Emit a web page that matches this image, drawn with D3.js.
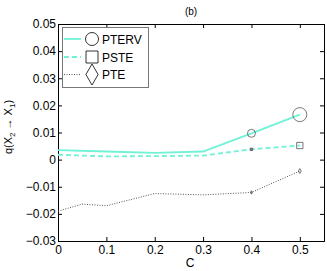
<!DOCTYPE html>
<html lang='en'>
<meta charset="utf-8">
<script src="https://d3js.org/d3.v7.min.js"></script>
<style>
body { margin:0; background:#fff; }
text { font-family: "Liberation Sans", Arial, sans-serif; }
</style>
<body>
<svg id="chart" width="327" height="271"></svg>
<script>

// data
var cValues = [0, 0.1, 0.2, 0.3, 0.4, 0.5];
var pterv = [0.0035, 0.003, 0.0025, 0.003, 0.0097, 0.0166];
var pste = [0.0018, 0.0012, 0.0013, 0.0015, 0.0038, 0.0052];
var pteX = [0, 0.05, 0.1, 0.2, 0.3, 0.4, 0.5];
var pte = [-0.019, -0.0164, -0.017, -0.0125, -0.013, -0.0121, -0.0042];
var markerC = [0.4, 0.5];
var ptervMarker = [0.0097, 0.0166];
var psteMarker = [0.0038, 0.0052];
var pteMarker = [-0.0121, -0.0042];
var markerSize = [4, 7];
var xTicks = [0, 0.1, 0.2, 0.3, 0.4, 0.5];
var yTicks = [-0.03, -0.02, -0.01, 0, 0.01, 0.02, 0.03, 0.04, 0.05];
var seriesNames = ["PTERV", "PSTE", "PTE"];

var cyan = "#6ff2d6";
var grey = "#555";

var svg = d3.select("#chart");
var L = 58, R = 324, T = 24, B = 241;

var x = d3.scaleLinear().domain([0, 0.55]).range([L, R]);
var y = d3.scaleLinear().domain([-0.03, 0.05]).range([B, T]);

function fmt(d){ return d == 0 ? "0" : d3.format(".2f")(d).replace("-", "\u2212"); }

// axes (matlab style, ticks inside)
svg.append("g").attr("transform","translate(0,"+B+")")
  .call(d3.axisBottom(x).tickValues(xTicks).tickSize(-4).tickPadding(4).tickFormat(function(d){ return d == 0 ? "0" : d3.format(".1f")(d); }));
svg.append("g").attr("transform","translate(0,"+T+")")
  .call(d3.axisTop(x).tickValues(xTicks).tickSize(-4).tickFormat(""));
svg.append("g").attr("transform","translate("+L+",0)")
  .call(d3.axisLeft(y).tickValues(yTicks).tickSize(-4).tickPadding(2).tickFormat(fmt));
svg.append("g").attr("transform","translate("+R+",0)")
  .call(d3.axisRight(y).tickValues(yTicks).tickSize(-4).tickFormat(""));

svg.selectAll(".domain").attr("stroke","#000").attr("stroke-width",1);
svg.selectAll(".tick line").attr("stroke","#000");
svg.selectAll(".tick text").attr("font-size","12px").attr("fill","#000")
  .style("font-family","'Liberation Sans', Arial, sans-serif");

// lines
var line = d3.line().x(function(d){ return x(d[0]); }).y(function(d){ return y(d[1]); });

svg.append("path").datum(d3.zip(cValues, pterv)).attr("d", line)
  .attr("fill","none").attr("stroke",cyan).attr("stroke-width",1.8);
svg.append("path").datum(d3.zip(cValues, pste)).attr("d", line)
  .attr("fill","none").attr("stroke",cyan).attr("stroke-width",1.8).attr("stroke-dasharray","5,3");
svg.append("path").datum(d3.zip(pteX, pte)).attr("d", line)
  .attr("fill","none").attr("stroke",grey).attr("stroke-width",1).attr("stroke-dasharray","1,1.5");

// markers
var sym = [d3.symbolCircle, d3.symbolSquare, d3.symbolDiamond];
var mks = [ptervMarker, psteMarker, pteMarker];
var scaleMk = [1, 0.45, 0.25];
mks.forEach(function(arr, k){
  arr.forEach(function(v, i){
    var r = markerSize[i] * scaleMk[k];
    if (k > 0 && i == 0) r = 1.2;
    var a = k == 0 ? Math.PI*r*r : (k == 1 ? 4*r*r : 2.3*r*r);
    svg.append("path")
      .attr("d", d3.symbol().type(sym[k]).size(a)())
      .attr("transform","translate("+x(markerC[i])+","+y(v)+")")
      .attr("fill", k == 0 ? "none" : (i == 0 ? "#888" : "none"))
      .attr("stroke", "#555").attr("stroke-width", 0.8);
  });
});

// legend
var lg = svg.append("g");
lg.append("rect").attr("x",62.5).attr("y",27.5).attr("width",86).attr("height",60)
  .attr("fill","#fff").attr("stroke","#777").attr("stroke-width",1);
var legY = [39, 57, 74.5];
var legDash = [null, "5,3", "1,1.5"];
var legCol = [cyan, cyan, grey];
var legW = [1.8, 1.8, 1];
var legSize = [Math.PI*6.5*6.5, 144, 2*8*8];
seriesNames.forEach(function(name, i){
  lg.append("line").attr("x1",64).attr("x2",81).attr("y1",legY[i]).attr("y2",legY[i])
    .attr("stroke",legCol[i]).attr("stroke-width",legW[i]).attr("stroke-dasharray",legDash[i]);
  lg.append("path").attr("d", d3.symbol().type(sym[i]).size(legSize[i])())
    .attr("transform","translate(92,"+legY[i]+")")
    .attr("fill","none").attr("stroke","#000").attr("stroke-width",0.8);
  lg.append("text").attr("x",102).attr("y",legY[i]+4.5).attr("font-size","12px").text(name);
});

// title and labels
svg.append("text").attr("x",(L+R)/2).attr("y",15).attr("text-anchor","middle")
  .attr("font-size","10px").text("(b)");
svg.append("text").attr("x",190).attr("y",267).attr("text-anchor","middle")
  .attr("font-size","12px").text("C");

var yl = svg.append("text").attr("transform","translate(12,127) rotate(-90)")
  .attr("text-anchor","middle").attr("font-size","11px");
yl.append("tspan").text("q(X");
yl.append("tspan").attr("font-size","8px").attr("dy",3).text("2");
yl.append("tspan").attr("dy",-3).text(" \u2192 X");
yl.append("tspan").attr("font-size","8px").attr("dy",3).text("1");
yl.append("tspan").attr("dy",-3).text(")");

</script>
</body>
</html>
